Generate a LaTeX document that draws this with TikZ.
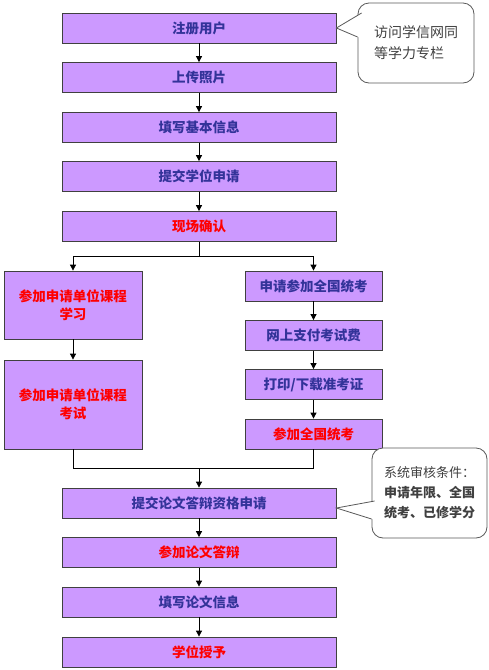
\documentclass[tikz,border=0pt]{standalone}
\usepackage{fontspec}
\setmainfont{Noto Sans CJK SC}
\usetikzlibrary{arrows.meta}
\definecolor{ziqing}{HTML}{CC99FF}
\definecolor{shenlan}{HTML}{333399}
\definecolor{hongse}{HTML}{FF0000}
\definecolor{bianhui}{HTML}{404040}
\definecolor{qianhui}{HTML}{595959}

\begin{document}
\begin{tikzpicture}[x=1pt, y=-1pt,
    flowbox/.style={draw=bianhui, fill=ziqing, line width=0.8pt, inner sep=0pt,
        minimum width=274pt, minimum height=30pt, text=shenlan, align=center,
        font=\fontsize{13.5}{18}\selectfont\bfseries},
    sidebox/.style={flowbox, minimum width=137pt},
    hot/.style={text=hongse},
    link/.style={draw=black, line width=0.8pt, -{Triangle[length=6pt,width=6pt]}},
    note/.style={draw=qianhui, fill=white, line width=0.8pt, rounded corners=11pt,
        text=bianhui, align=left, inner sep=0pt}]
    \useasboundingbox (0,0) rectangle (489,670);

    % main column
    \node[flowbox] (reg) at (199,28) {注册用户};
    \node[flowbox] (photo) at (199,77.5) {上传照片};
    \node[flowbox] (info) at (199,127.5) {填写基本信息};
    \node[flowbox] (apply) at (199,176.5) {提交学位申请};
    \node[flowbox, hot] (confirm) at (199,226.5) {现场确认};

    % two branches
    \node[sidebox, hot, minimum width=138pt, minimum height=68pt] (course) at (73,305) {参加申请单位课程\\学习};
    \node[sidebox, hot, minimum width=138pt, minimum height=89pt] (exam) at (73,404.5) {参加申请单位课程\\考试};
    \node[sidebox] (signup) at (313.5,286) {申请参加全国统考};
    \node[sidebox] (pay) at (313.5,335.5) {网上支付考试费};
    \node[sidebox] (ticket) at (313.5,384.5) {打印/下载准考证};
    \node[sidebox, hot] (national) at (313.5,434) {参加全国统考};

    \node[flowbox] (thesis) at (199,503) {提交论文答辩资格申请};
    \node[flowbox, hot] (defend) at (199,552.5) {参加论文答辩};
    \node[flowbox] (paper) at (199,602) {填写论文信息};
    \node[flowbox, hot] (degree) at (199,652) {学位授予};

    \foreach \a/\b in {reg/photo, photo/info, info/apply, apply/confirm,
        course/exam, signup/pay, pay/ticket, ticket/national,
        thesis/defend, defend/paper, paper/degree}
        \draw[link] (\a) -- (\b);

    \coordinate (fork) at (199,256);
    \coordinate (merge) at (199,468);
    \draw[line width=0.8pt] (confirm) -- (fork);
    \draw[link] (fork) -| (course);
    \draw[link] (fork) -| (signup);
    \draw[line width=0.8pt] (exam) |- (merge);
    \draw[line width=0.8pt] (national) |- (merge);
    \draw[link] (merge) -- (thesis);

    % callouts
    \node[note, minimum width=116pt, minimum height=80pt,
        font=\fontsize{14}{21}\selectfont] (tip1) at (416,43) {访问学信网同\\等学力专栏};
    \fill[white] (reg.east) -- ([xshift=4pt,yshift=30pt]tip1.west) -- ([xshift=7pt,yshift=30pt]tip1.west)
        -- ([xshift=3pt,yshift=6pt]tip1.west) -- ([yshift=6pt]tip1.west) -- cycle;
    \draw[qianhui, line width=0.8pt] ([xshift=4pt,yshift=30pt]tip1.west) -- (reg.east) -- ([yshift=6pt]tip1.west);

    \node[note, minimum width=115pt, minimum height=90pt,
        font=\fontsize{13}{20}\selectfont] (tip2) at (429.5,493)
        {系统审核条件：\\\textbf{申请年限、全国}\\\textbf{统考、已修学分}};
    \fill[white] ([yshift=-5pt]thesis.east) -- ([xshift=3pt,yshift=-8pt]tip2.west) -- ([xshift=6pt,yshift=-8pt]tip2.west)
        -- ([xshift=3pt,yshift=-26pt]tip2.west) -- ([yshift=-26pt]tip2.west) -- cycle;
    \draw[qianhui, line width=0.8pt] ([xshift=3pt,yshift=-8pt]tip2.west) -- ([yshift=-5pt]thesis.east) -- ([yshift=-26pt]tip2.west);
\end{tikzpicture}
\end{document}
